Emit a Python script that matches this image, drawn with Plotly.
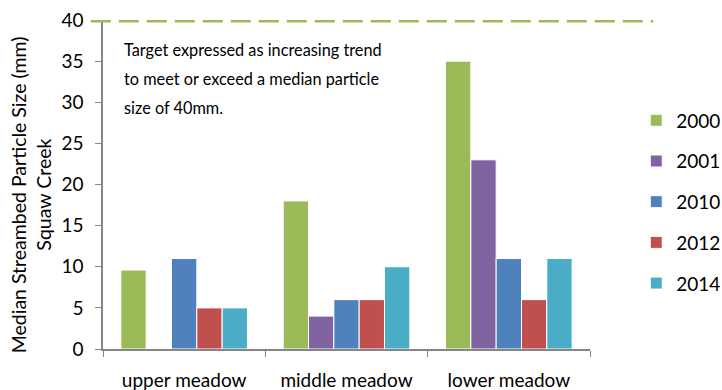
import plotly.graph_objects as go

categories = ["upper meadow", "middle meadow", "lower meadow"]
years = ["2000", "2001", "2010", "2012", "2014"]
values = {
    "2000": [9.6, 18, 35],
    "2001": [None, 4, 23],
    "2010": [11, 6, 11],
    "2012": [5, 6, 6],
    "2014": [5, 10, 11],
}
colors = {
    "2000": "#9BBB59",
    "2001": "#8064A2",
    "2010": "#4F81BD",
    "2012": "#C0504D",
    "2014": "#4BACC6",
}
target = 40
note_lines = [
    "Target expressed as increasing trend",
    "to meet or exceed a median particle",
    "size of 40mm.",
]
ytitle_lines = ["Median Streambed Particle Size (mm)", "Squaw Creek"]

FONT = "Lato, Open Sans, sans-serif"

fig = go.Figure()
for y in years:
    fig.add_trace(go.Bar(
        x=categories, y=values[y], name=y, legendgroup=y,
        marker=dict(color=colors[y], line=dict(color="white", width=1)),
    ))

fig.add_shape(type="line", xref="paper", yref="y", x0=-0.025, x1=1.13,
              y0=target, y1=target,
              line=dict(color="#9BBB59", width=5, dash="20px,8px"))

for i, t in enumerate(note_lines):
    fig.add_annotation(xref="paper", yref="paper", x=0.04, y=0.909 - i * 0.088,
                       text=t, showarrow=False, xanchor="left", yanchor="middle",
                       font=dict(family=FONT, size=16.3, color="#000"))

for i, t in enumerate(ytitle_lines):
    fig.add_annotation(xref="paper", yref="paper", x=-0.174 + i * 0.05, y=0.468,
                       text=t, showarrow=False, textangle=-90,
                       xanchor="center", yanchor="middle",
                       font=dict(family=FONT, size=19.5, color="#000"))

fig.update_layout(
    width=722, height=390,
    margin=dict(l=103, r=132, t=20, b=41, autoexpand=False),
    paper_bgcolor="white", plot_bgcolor="white",
    barmode="group", bargap=0.22, bargroupgap=0,
    font=dict(family=FONT, size=18, color="#000"),
    legend=dict(x=1.095, y=0.447, xanchor="left", yanchor="middle",
                font=dict(size=19), tracegroupgap=13, itemwidth=30,
                traceorder="grouped"),
    showlegend=True,
)
fig.update_xaxes(showline=True, linecolor="#868686", linewidth=1.5,
                 ticks="outside", tickson="boundaries", ticklen=6,
                 tickcolor="#868686", showgrid=False, automargin=False,
                 ticklabelstandoff=13, tickfont=dict(size=19))
fig.update_yaxes(range=[0, 40], dtick=5, showline=True, linecolor="#868686",
                 linewidth=1.5, ticks="outside", ticklen=6, tickcolor="#868686",
                 showgrid=False, zeroline=False, tickfont=dict(size=19),
                 automargin=False, ticklabelstandoff=8)

fig.write_html("out.html", config={"displayModeBar": False},
               post_script="document.body.style.margin='0';document.body.style.overflow='hidden';")
